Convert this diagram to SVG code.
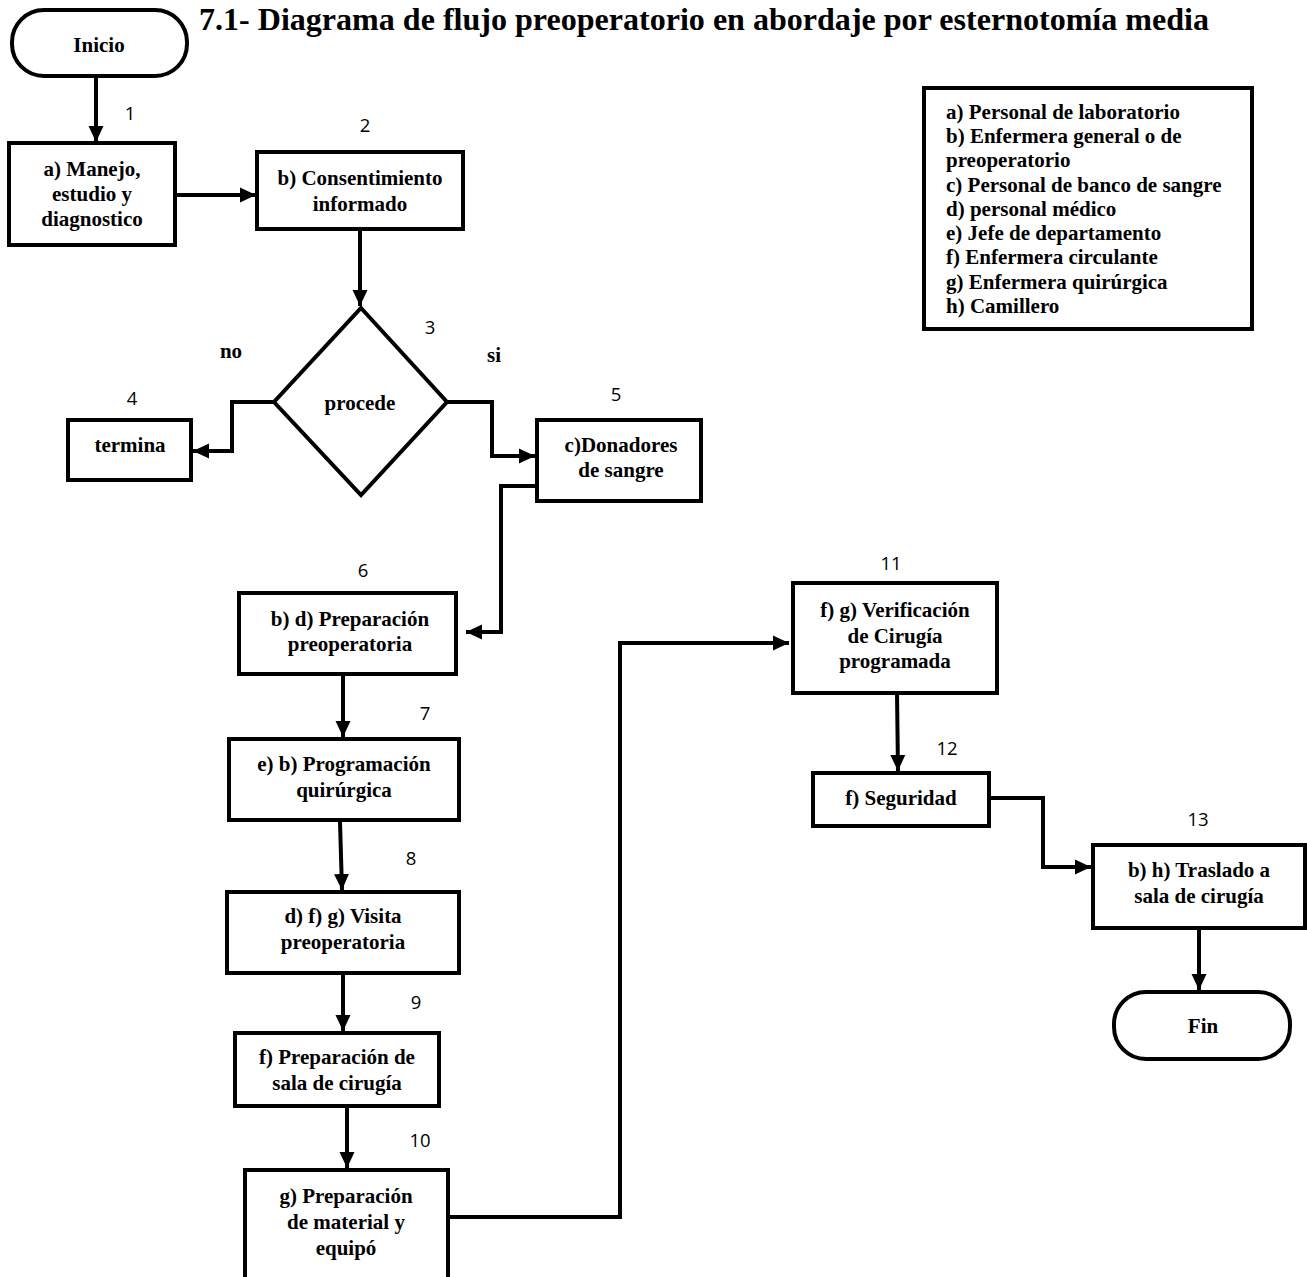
<svg xmlns="http://www.w3.org/2000/svg" width="1307" height="1277" viewBox="0 0 1307 1277">
<style>
.box{fill:#fff;stroke:#000;stroke-width:4}
.t{font-family:"Liberation Serif","Times New Roman",serif;font-weight:bold;font-size:21px;fill:#000;text-anchor:middle}
.n{font-family:"Open Sans","Noto Sans",sans-serif;font-size:18.5px;fill:#000;text-anchor:middle}
.lg{font-family:"Liberation Serif","Times New Roman",serif;font-weight:bold;font-size:21px;fill:#000}
.c{fill:none;stroke:#000;stroke-width:4;marker-end:url(#ah)}
</style>
<defs>
<marker id="ah" markerUnits="userSpaceOnUse" markerWidth="18" markerHeight="18" refX="16" refY="9" orient="auto">
<path d="M0,1.5 L16,9 L0,16.5 z" fill="#000"/>
</marker>
</defs>
<rect width="1307" height="1277" fill="#fff"/>
<text x="199" y="30" font-family="Liberation Serif, Times New Roman, serif" font-weight="bold" font-size="31" textLength="1010" lengthAdjust="spacingAndGlyphs">7.1- Diagrama de flujo preoperatorio en abordaje por esternotomía media</text>

<g id="connectors">
<line class="c" x1="96" y1="78" x2="96" y2="142"/>
<line class="c" x1="175" y1="195" x2="256" y2="195"/>
<line class="c" x1="360" y1="231" x2="360" y2="306"/>
<polyline class="c" points="274,402 232,402 232,451 193,451"/>
<polyline class="c" points="447,402 492,402 492,456 535,456"/>
<polyline class="c" points="537,486 501,486 501,632 466,632"/>
<line class="c" x1="343" y1="674" x2="343" y2="737"/>
<line class="c" x1="340" y1="822" x2="342" y2="890"/>
<line class="c" x1="343" y1="973" x2="343" y2="1031"/>
<line class="c" x1="347" y1="1108" x2="347" y2="1168"/>
<polyline class="c" points="449,1217 620,1217 620,643 789,643"/>
<line class="c" x1="897" y1="693" x2="898" y2="771"/>
<polyline class="c" points="989,798 1043,798 1043,867 1091,867"/>
<line class="c" x1="1199" y1="930" x2="1199" y2="990"/>
</g>

<g id="inicio"><rect class="box" x="12" y="10" width="175" height="66" rx="32"/><text class="t" x="99" y="52">Inicio</text></g>
<g id="n1"><rect class="box" x="9" y="143" width="166" height="102"/><text class="t" x="92" y="176">a) Manejo,</text><text class="t" x="92" y="201">estudio y</text><text class="t" x="92" y="226">diagnostico</text><text class="n" x="130" y="120">1</text></g>
<g id="n2"><rect class="box" x="257" y="152" width="206" height="77"/><text class="t" x="360" y="185">b) Consentimiento</text><text class="t" x="360" y="211">informado</text><text class="n" x="365" y="132">2</text></g>
<g id="n3"><polygon class="box" points="361,308 447,402 361,495 274,402"/><text class="t" x="360" y="410">procede</text><text class="n" x="430" y="334">3</text><text class="t" x="231" y="358">no</text><text class="t" x="494" y="362">si</text></g>
<g id="n4"><rect class="box" x="68" y="420" width="123" height="60"/><text class="t" x="130" y="452">termina</text><text class="n" x="132" y="405">4</text></g>
<g id="n5"><rect class="box" x="537" y="420" width="164" height="81"/><text class="t" x="621" y="452">c)Donadores</text><text class="t" x="621" y="477">de sangre</text><text class="n" x="616" y="401">5</text></g>
<g id="n6"><rect class="box" x="239" y="593" width="217" height="81"/><text class="t" x="350" y="626">b) d) Preparación</text><text class="t" x="350" y="651">preoperatoria</text><text class="n" x="363" y="577">6</text></g>
<g id="n7"><rect class="box" x="229" y="739" width="230" height="81"/><text class="t" x="344" y="771">e) b) Programación</text><text class="t" x="344" y="797">quirúrgica</text><text class="n" x="425" y="720">7</text></g>
<g id="n8"><rect class="box" x="227" y="892" width="232" height="81"/><text class="t" x="343" y="923">d) f) g) Visita</text><text class="t" x="343" y="949">preoperatoria</text><text class="n" x="411" y="865">8</text></g>
<g id="n9"><rect class="box" x="235" y="1033" width="204" height="73"/><text class="t" x="337" y="1064">f) Preparación de</text><text class="t" x="337" y="1090">sala de cirugía</text><text class="n" x="416" y="1009">9</text></g>
<g id="n10"><rect class="box" x="245" y="1170" width="203" height="130"/><text class="t" x="346" y="1203">g) Preparación</text><text class="t" x="346" y="1229">de material y</text><text class="t" x="346" y="1255">equipó</text><text class="n" x="420" y="1147">10</text></g>
<g id="n11"><rect class="box" x="793" y="583" width="204" height="110"/><text class="t" x="895" y="617">f) g) Verificación</text><text class="t" x="895" y="643">de Cirugía</text><text class="t" x="895" y="668">programada</text><text class="n" x="891" y="570">11</text></g>
<g id="n12"><rect class="box" x="813" y="773" width="176" height="53"/><text class="t" x="901" y="805">f) Seguridad</text><text class="n" x="947" y="755">12</text></g>
<g id="n13"><rect class="box" x="1093" y="845" width="212" height="83"/><text class="t" x="1199" y="877">b) h) Traslado a</text><text class="t" x="1199" y="903">sala de cirugía</text><text class="n" x="1198" y="826">13</text></g>
<g id="fin"><rect class="box" x="1114" y="992" width="176" height="67" rx="32"/><text class="t" x="1203" y="1033">Fin</text></g>

<g id="legend"><rect class="box" x="924" y="88" width="328" height="241" stroke-width="2.5"/>
<text class="lg" x="946" y="119">a) Personal de laboratorio</text>
<text class="lg" x="946" y="143">b) Enfermera general o de</text>
<text class="lg" x="946" y="167">preoperatorio</text>
<text class="lg" x="946" y="192">c) Personal de banco de sangre</text>
<text class="lg" x="946" y="216">d) personal médico</text>
<text class="lg" x="946" y="240">e) Jefe de departamento</text>
<text class="lg" x="946" y="264">f) Enfermera circulante</text>
<text class="lg" x="946" y="289">g) Enfermera quirúrgica</text>
<text class="lg" x="946" y="313">h) Camillero</text>
</g>
</svg>
